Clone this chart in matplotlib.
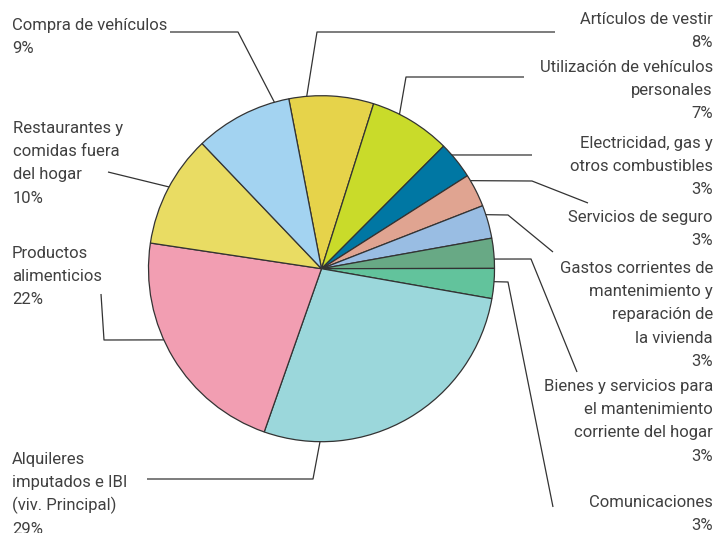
import numpy as np
import matplotlib
matplotlib.use("Agg")
import matplotlib.pyplot as plt

# shares (percent), clockwise from the top
categories = [
    "Artículos de vestir",
    "Utilización de vehículos personales",
    "Electricidad, gas y otros combustibles",
    "Servicios de seguro",
    "Gastos corrientes de mantenimiento y reparación de la vivienda",
    "Bienes y servicios para el mantenimiento corriente del hogar",
    "Comunicaciones",
    "Alquileres imputados e IBI (viv. Principal)",
    "Productos alimenticios",
    "Restaurantes y comidas fuera del hogar",
    "Compra de vehículos",
]
shares = [7.9, 7.6, 3.5, 3.1, 3.1, 2.8, 2.8, 27.6, 22.0, 10.5, 9.1]
pct_labels = ["8%", "7%", "3%", "3%", "3%", "3%", "3%", "29%", "22%", "10%", "9%"]
colors = ["#E6D34A", "#C9DB2A", "#0077A3", "#E0A491", "#99BDE3", "#68A985",
          "#62C39C", "#9BD7DB", "#F29EB2", "#E9DC63", "#A3D3F1"]

# how each label is broken into lines
label_lines = [
    ["Artículos de vestir"],
    ["Utilización de vehículos", "personales"],
    ["Electricidad, gas y", "otros combustibles"],
    ["Servicios de seguro"],
    ["Gastos corrientes de", "mantenimiento y", "reparación de", "la vivienda"],
    ["Bienes y servicios para", "el mantenimiento", "corriente del hogar"],
    ["Comunicaciones"],
    ["Alquileres", "imputados e IBI", "(viv. Principal)"],
    ["Productos", "alimenticios"],
    ["Restaurantes y", "comidas fuera", "del hogar"],
    ["Compra de vehículos"],
]

W, H = 716, 533
CX, CY, R = 321.5, 268.7, 173
START = 100.9
LINE_H = 23.2
TXT = "#404040"

# layout: (x, first baseline, side) in pixels from top-left
text_pos = [
    (713, 24, "right"),
    (713, 72, "right"),
    (713, 148, "right"),
    (713, 222, "right"),
    (713, 273, "right"),
    (713, 391, "right"),
    (713, 507, "right"),
    (12, 464, "left"),
    (12, 258, "left"),
    (13, 133, "left"),
    (12, 30, "left"),
]
# leader line elbows (pixels) and the angle where they meet the pie
leaders = [
    ([(555, 32), (317, 32)], 94.9),
    ([(524, 77), (406, 77)], 63.2),
    ([(532, 155)], 41.1),
    ([(588, 203), (532, 181)], 30.6),
    ([(553, 252), (508, 215)], 18.2),
    ([(577, 372), (531, 259)], 3.2),
    ([(553, 507), (508, 282)], -4.3),
    ([(147, 479), (313, 479)], 269.5),
    ([(101, 294), (104, 340)], 204.3),
    ([(108, 172)], 151.8),
    ([(170, 32), (238, 32)], 105.8),
]


def px(x, y):
    return x, H - y


plt.rcParams["font.family"] = ["Roboto", "DejaVu Sans"]

fig = plt.figure(figsize=(W / 100, H / 100), dpi=100)
ax = fig.add_axes([0, 0, 1, 1])

ax.pie(shares, colors=colors, startangle=START, counterclock=False,
       center=px(CX, CY), radius=R,
       wedgeprops=dict(edgecolor="#333333", linewidth=0.9))

for pts, ang in leaders:
    a = np.deg2rad(ang)
    edge = (CX + R * np.cos(a), CY - R * np.sin(a))
    xs = [p[0] for p in pts] + [edge[0]]
    ys = [H - p[1] for p in pts] + [H - edge[1]]
    ax.plot(xs, ys, color="#333333", lw=0.9, solid_capstyle="butt")

for lines, pct, (x, y0, side) in zip(label_lines, pct_labels, text_pos):
    for i, s in enumerate(lines + [pct]):
        ax.text(*px(x, y0 + i * LINE_H), s, ha=side, va="baseline",
                fontsize=12, color=TXT)

ax.set_xlim(0, W)
ax.set_ylim(0, H)
ax.set_aspect("auto")
ax.axis("off")

fig.savefig("out.png", dpi=100)
